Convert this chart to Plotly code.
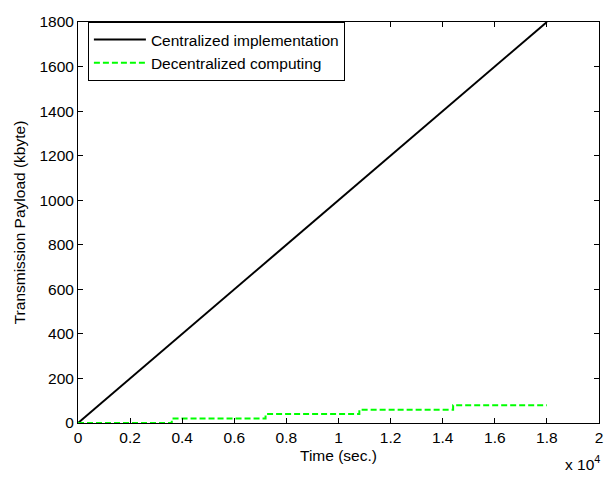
import plotly.graph_objects as go

# Data
t_central = [0, 18000]
payload_central = [0, 1800]

t_decentral = [0, 3600, 7200, 10800, 14400, 18000]
payload_decentral = [0, 20, 40, 60, 80, 80]

x_tickvals = [0, 2000, 4000, 6000, 8000, 10000, 12000, 14000, 16000, 18000, 20000]
x_ticktext = ["0", "0.2", "0.4", "0.6", "0.8", "1", "1.2", "1.4", "1.6", "1.8", "2"]
y_tickvals = [0, 200, 400, 600, 800, 1000, 1200, 1400, 1600, 1800]

FS = 15.5

fig = go.Figure()
fig.add_trace(go.Scatter(x=t_central, y=payload_central, mode="lines",
                         name="Centralized implementation",
                         line=dict(color="black", width=2)))
fig.add_trace(go.Scatter(x=t_decentral, y=payload_decentral, mode="lines",
                         name="Decentralized computing",
                         line=dict(color="#00ff00", width=2, dash="6px,3px", shape="hv")))

axis_common = dict(showline=True, linecolor="black", linewidth=1, mirror="allticks",
                   ticks="inside", ticklen=5, tickcolor="black", showgrid=False,
                   zeroline=False, ticklabeloverflow="allow",
                   tickfont=dict(size=FS, color="black"))

fig.update_xaxes(range=[0, 20000], tickvals=x_tickvals, ticktext=x_ticktext,
                 title=dict(text="Time (sec.)", font=dict(size=FS, color="black"), standoff=5),
                 **axis_common)
fig.update_yaxes(range=[0, 1800], tickvals=y_tickvals,
                 title=dict(text="Transmission Payload (kbyte)", font=dict(size=FS, color="black"), standoff=9),
                 **axis_common)

fig.add_annotation(xref="paper", yref="paper", x=1.0, y=0, yshift=-28, xshift=3,
                   xanchor="right", yanchor="top",
                   text="x 10<sup>4</sup>", showarrow=False, font=dict(size=FS, color="black"))

# page body has an 8px margin; compensate so the plot area sits where the reference has it
fig.update_layout(width=607, height=469,
                  margin=dict(l=70, r=16, t=5, b=54),
                  plot_bgcolor="white", paper_bgcolor="white",
                  font=dict(family="Liberation Sans, Arial, sans-serif", size=FS, color="black"),
                  legend=dict(x=0.019, y=1.0, xanchor="left", yanchor="top",
                              bordercolor="black", borderwidth=1, bgcolor="white",
                              itemwidth=52,
                              font=dict(size=FS), tracegroupgap=0))

fig.write_html("out.html")
